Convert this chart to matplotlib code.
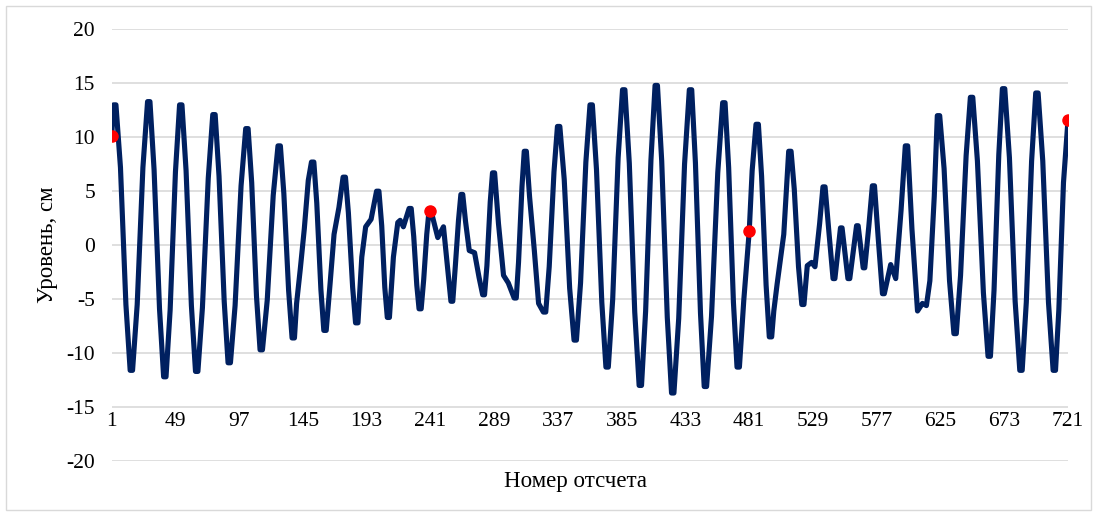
import matplotlib
matplotlib.use("Agg")
import matplotlib.pyplot as plt
from matplotlib.patches import Rectangle

# sample number / level (cm): extrema (tips as two points) and points along the slopes
sample_no = [
    1, 2.4, 4.2, 7.6, 11.7, 14.9, 16.7, 20.2, 24.5, 28, 29.8, 32.9, 37, 40.1, 41.9, 45, 49,
    52.1, 53.9, 57, 61, 64.1, 65.9, 69.3, 73.7, 77.1, 78.9, 81.8, 85.7, 88.6, 90.4, 93.9, 98.4,
    101.9, 103.7, 106.4, 110, 112.7, 114.5, 118.1, 122.6, 126.2, 128, 130.6, 134.2, 136.8, 138.6,
    140.2, 143, 146, 149, 151.4, 153.2, 155.4, 158.5, 160.7, 162.5,
    165.4, 168.4, 172.1, 175.2, 177, 179.2, 182.4, 184.6, 186.4,
    189.3, 192.2, 196.3, 200.4, 202.2, 204.3, 206.6, 208.5, 210.1,
    213.1, 216.4, 218.2, 220.6, 224.9, 226.5, 228.4, 230.7, 232.4, 234, 235.9, 238.2, 240, 241.4,
    246.5, 250.8, 253.8, 256.4, 257.8, 259.8, 262.1, 263.9, 265.3,
    267.4, 270.2, 274.2, 277.6, 280.3, 281.7, 283.5, 286, 287.7, 289.3,
    292.2, 296, 299.6, 304, 305.6, 307.3, 309.9, 311.6, 313.2,
    315.6, 319.2, 322.4, 326, 327.8, 330.4, 334, 336.6, 338.4, 341.7, 345.8, 349.1, 350.9,
    354, 358, 361.1, 362.9, 366, 370, 373.1, 374.9, 378.2, 382.3, 385.6, 387.4,
    390.7, 394.8, 398.1, 399.9, 403, 407, 410.1, 411.9, 415.1, 419.3, 422.5, 424.3,
    427.9, 432.3, 435.9, 437.7, 440.5, 444.3, 447.1, 448.9, 452.6, 457.3, 461, 462.8,
    465.5, 469.1, 471.8, 473.6, 476.9, 481, 483.2, 486.1, 487.9, 490.3, 493.7, 496.1, 497.9,
    499.5, 502, 507, 510.7, 512.5, 514.9, 518.1, 520.6, 522.2,
    524.7, 528, 530.5, 534, 536.5, 538.1, 541, 544.1, 545.5, 549.7, 550.9, 555.3, 556.7,
    561.8, 563, 566.8, 568, 571, 573.7, 575.3, 578.2, 581.3, 582.7,
    587.5, 591.3, 595.3, 598.5, 600.3, 603.5, 607.7,
    611.4, 614.4, 617, 620.3, 622.6, 624.4, 627.7, 631.8, 635.1, 636.9,
    640.1, 644.3, 647.5, 649.3, 652.8, 657.3, 660.8, 662.6,
    665.3, 668.9, 671.6, 673.4, 676.9, 681.2, 684.7, 686.5,
    689.6, 693.6, 696.7, 698.5, 702, 706.3, 709.8, 711.6, 714.1, 717.6, 721,
]
level_cm = [
    10.1, 13.0, 13.0, 7.2, -5.5, -11.6, -11.6, -5.5, 7.2, 13.3, 13.3, 7.0, -5.9, -12.2, -12.2, -6.0, 6.8,
    13.0, 13.0, 6.9, -5.6, -11.7, -11.7, -5.8, 6.2, 12.1, 12.1, 6.4, -5.2, -10.9, -10.9, -5.6, 5.5,
    10.8, 10.8, 5.8, -4.7, -9.7, -9.7, -5.1, 4.6, 9.2, 9.2, 4.8, -4.2, -8.6, -8.6,
    -5.4, -2.2, 1.5, 6.0, 7.7, 7.7, 3.9, -4.1, -7.9, -7.9,
    -3.6, 1.0, 3.5, 6.3, 6.3, 3.0, -3.9, -7.2, -7.2,
    -1.1, 1.7, 2.4, 5.0, 5.0, 1.8, -3.9, -6.7, -6.7,
    -1.1, 2.1, 2.3, 1.7, 3.4, 3.4, 0.8, -3.7, -5.9, -5.9, -3.2, 1.0, 3.3, 3.2,
    0.7, 1.7, -2.0, -5.2, -5.2, -1.8, 2.3, 4.7, 4.7,
    2.2, -0.5, -0.7, -3.0, -4.6, -4.6, -1.9, 4.0, 6.7, 6.7,
    2.0, -2.8, -3.5, -4.9, -4.9, -1.6, 5.4, 8.7, 8.7,
    4.5, -0.5, -5.4, -6.2, -6.2, -2.0, 6.8, 11.0, 11.0, 6.1, -4.0, -8.8, -8.8,
    -3.5, 7.7, 13.0, 13.0, 7.0, -5.3, -11.3, -11.3, -5.0, 8.1, 14.4, 14.4,
    7.6, -6.2, -13.0, -13.0, -6.1, 7.9, 14.8, 14.8, 7.8, -6.7, -13.7, -13.7,
    -6.8, 7.5, 14.4, 14.4, 7.6, -6.3, -13.1, -13.1, -6.6, 6.7, 13.2, 13.2,
    7.2, -5.3, -11.3, -11.3, -5.1, 1.3, 6.9, 11.2, 11.2, 6.4, -3.7, -8.5, -8.5,
    -6.1, -3.6, 1.0, 8.7, 8.7, 5.2, -2.0, -5.5, -5.5,
    -1.9, -1.6, -2.0, 2.0, 5.4, 5.4, 1.2, -3.1, -3.1, 1.6, 1.6, -3.1, -3.1,
    1.8, 1.8, -2.1, -2.1, 1.7, 5.5, 5.5, 0.5, -4.5, -4.5,
    -1.8, -3.1, 3.2, 9.2, 9.2, 1.5, -6.1,
    -5.4, -5.6, -3.3, 4.5, 12.0, 12.0, 7.1, -3.3, -8.2, -8.2,
    -2.8, 8.3, 13.7, 13.7, 7.8, -4.4, -10.3, -10.3,
    -4.2, 8.4, 14.5, 14.5, 8.1, -5.2, -11.6, -11.6,
    -5.3, 7.8, 14.1, 14.1, 7.8, -5.3, -11.6, -11.6, -6.0, 5.8, 11.6,
]

# highlighted samples
red_no = [1, 241, 481, 721]
red_level = [10.1, 3.2, 1.3, 11.6]

x_ticks = list(range(1, 722, 48))
y_ticks = list(range(-20, 21, 5))

plt.rcParams['font.family'] = ['Liberation Serif', 'DejaVu Serif']
plt.rcParams['axes.unicode_minus'] = False

W, H = 1097, 516
fig = plt.figure(figsize=(W / 100, H / 100), dpi=100)
fig.patches.append(Rectangle((6 / W, 6 / H), (W - 12) / W, (H - 12) / H, transform=fig.transFigure,
                             fill=False, edgecolor='#D9D9D9', linewidth=1))

left, right = 111.7 / W, 1068 / W
top, bottom = 1 - 29.3 / H, 1 - 461 / H
ax = fig.add_axes([left, bottom, right - left, top - bottom])

ax.plot(sample_no, level_cm, color='#002060', linewidth=3.7, solid_joinstyle='round',
        solid_capstyle='round', zorder=3)
ax.plot(red_no, red_level, 'o', color='#FF0000', markersize=8, zorder=4)

ax.set_xlim(1, 721)
ax.set_ylim(-20, 20)
ax.set_yticks(y_ticks)
ax.set_xticks(x_ticks)
ax.set_xticklabels([str(t) for t in x_ticks])
ax.grid(axis='y', color='#D9D9D9', linewidth=1.2)
ax.set_axisbelow(True)
for s in ax.spines.values():
    s.set_visible(False)
ax.tick_params(axis='both', length=0, labelsize=15.5, colors='#000000')
ax.tick_params(axis='y', pad=12)
ax.tick_params(axis='x', pad=-35)

fig.text(47 / W, 1 - 245 / H, 'Уровень, см', rotation=90, ha='center', va='center', fontsize=16.5)
fig.text(576 / W, 1 - 482 / H, 'Номер отсчета', ha='center', va='center', fontsize=16.5)

fig.savefig('out.png', dpi=100)
